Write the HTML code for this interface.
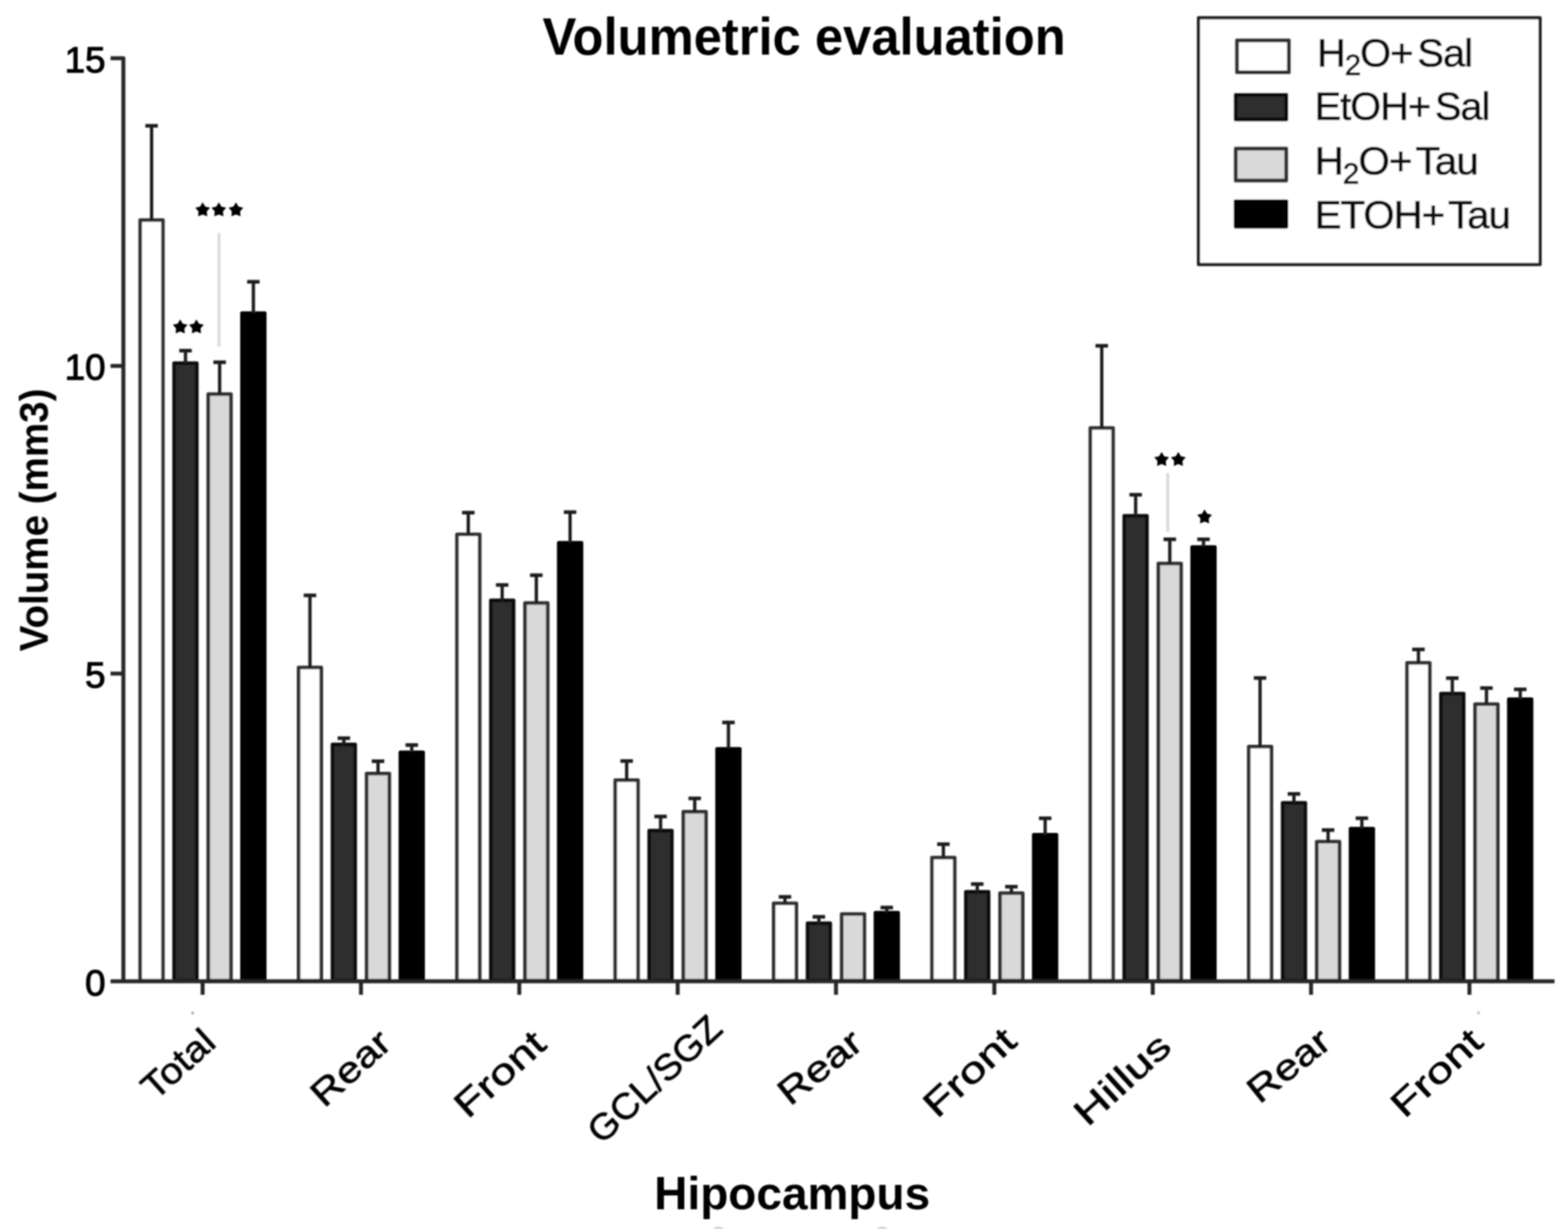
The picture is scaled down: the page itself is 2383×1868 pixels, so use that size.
<!DOCTYPE html>
<html><head><meta charset="utf-8"><title>Volumetric evaluation</title>
<style>html,body{margin:0;padding:0;background:#fff;}body{width:2383px;height:1868px;overflow:hidden;}svg{display:block;}text{font-family:"Liberation Sans",Arial,sans-serif;}</style></head><body>
<svg width="2383" height="1868" viewBox="0 0 2383 1868">
<rect x="0" y="0" width="2383" height="1868" fill="#fff"/>
<defs><filter id="soft" filterUnits="userSpaceOnUse" x="0" y="0" width="2383" height="1868"><feGaussianBlur stdDeviation="1.0"/></filter></defs>
<g filter="url(#soft)">
<text x="824.4" y="82.5" font-size="79" font-weight="bold" fill="#000" textLength="795.2" lengthAdjust="spacingAndGlyphs">Volumetric evaluation</text>
<rect x="213.1" y="334.4" width="34.5" height="1156.2" fill="#ffffff" stroke="#333333" stroke-width="5.5" stroke-linejoin="round"/>
<line x1="230.4" y1="334.4" x2="230.4" y2="191.2" stroke="#1e1e1e" stroke-width="5"/>
<line x1="220.9" y1="191.2" x2="239.9" y2="191.2" stroke="#1e1e1e" stroke-width="5.5"/>
<rect x="264.6" y="552.1" width="34.5" height="938.4" fill="#2e2e2e" stroke="#111111" stroke-width="5.5" stroke-linejoin="round"/>
<line x1="281.9" y1="552.1" x2="281.9" y2="533.0" stroke="#1e1e1e" stroke-width="5"/>
<line x1="272.4" y1="533.0" x2="291.4" y2="533.0" stroke="#1e1e1e" stroke-width="5.5"/>
<rect x="316.5" y="599.0" width="34.5" height="891.5" fill="#d9d9d9" stroke="#333333" stroke-width="5.5" stroke-linejoin="round"/>
<line x1="333.8" y1="599.0" x2="333.8" y2="550.6" stroke="#1e1e1e" stroke-width="5"/>
<line x1="324.3" y1="550.6" x2="343.3" y2="550.6" stroke="#1e1e1e" stroke-width="5.5"/>
<rect x="367.8" y="476.1" width="34.5" height="1014.5" fill="#000000" stroke="#000000" stroke-width="5.5" stroke-linejoin="round"/>
<line x1="385.1" y1="476.1" x2="385.1" y2="428.3" stroke="#1e1e1e" stroke-width="5"/>
<line x1="375.6" y1="428.3" x2="394.6" y2="428.3" stroke="#1e1e1e" stroke-width="5.5"/>
<rect x="453.8" y="1014.5" width="34.5" height="476.0" fill="#ffffff" stroke="#333333" stroke-width="5.5" stroke-linejoin="round"/>
<line x1="471.1" y1="1014.5" x2="471.1" y2="904.9" stroke="#1e1e1e" stroke-width="5"/>
<line x1="461.6" y1="904.9" x2="480.6" y2="904.9" stroke="#1e1e1e" stroke-width="5.5"/>
<rect x="505.3" y="1131.5" width="34.5" height="359.0" fill="#2e2e2e" stroke="#111111" stroke-width="5.5" stroke-linejoin="round"/>
<line x1="522.6" y1="1131.5" x2="522.6" y2="1122.0" stroke="#1e1e1e" stroke-width="5"/>
<line x1="513.1" y1="1122.0" x2="532.1" y2="1122.0" stroke="#1e1e1e" stroke-width="5.5"/>
<rect x="557.2" y="1175.8" width="34.5" height="314.7" fill="#d9d9d9" stroke="#333333" stroke-width="5.5" stroke-linejoin="round"/>
<line x1="574.5" y1="1175.8" x2="574.5" y2="1157.0" stroke="#1e1e1e" stroke-width="5"/>
<line x1="565.0" y1="1157.0" x2="584.0" y2="1157.0" stroke="#1e1e1e" stroke-width="5.5"/>
<rect x="608.5" y="1143.5" width="34.5" height="347.0" fill="#000000" stroke="#000000" stroke-width="5.5" stroke-linejoin="round"/>
<line x1="625.8" y1="1143.5" x2="625.8" y2="1132.4" stroke="#1e1e1e" stroke-width="5"/>
<line x1="616.3" y1="1132.4" x2="635.3" y2="1132.4" stroke="#1e1e1e" stroke-width="5.5"/>
<rect x="694.5" y="812.2" width="34.5" height="678.2" fill="#ffffff" stroke="#333333" stroke-width="5.5" stroke-linejoin="round"/>
<line x1="711.7" y1="812.2" x2="711.7" y2="779.2" stroke="#1e1e1e" stroke-width="5"/>
<line x1="702.2" y1="779.2" x2="721.2" y2="779.2" stroke="#1e1e1e" stroke-width="5.5"/>
<rect x="746.0" y="912.4" width="34.5" height="578.1" fill="#2e2e2e" stroke="#111111" stroke-width="5.5" stroke-linejoin="round"/>
<line x1="763.2" y1="912.4" x2="763.2" y2="889.1" stroke="#1e1e1e" stroke-width="5"/>
<line x1="753.7" y1="889.1" x2="772.7" y2="889.1" stroke="#1e1e1e" stroke-width="5.5"/>
<rect x="797.9" y="916.5" width="34.5" height="574.0" fill="#d9d9d9" stroke="#333333" stroke-width="5.5" stroke-linejoin="round"/>
<line x1="815.1" y1="916.5" x2="815.1" y2="874.3" stroke="#1e1e1e" stroke-width="5"/>
<line x1="805.6" y1="874.3" x2="824.6" y2="874.3" stroke="#1e1e1e" stroke-width="5.5"/>
<rect x="849.2" y="825.0" width="34.5" height="665.5" fill="#000000" stroke="#000000" stroke-width="5.5" stroke-linejoin="round"/>
<line x1="866.4" y1="825.0" x2="866.4" y2="778.4" stroke="#1e1e1e" stroke-width="5"/>
<line x1="856.9" y1="778.4" x2="875.9" y2="778.4" stroke="#1e1e1e" stroke-width="5.5"/>
<rect x="935.1" y="1185.8" width="34.5" height="304.8" fill="#ffffff" stroke="#333333" stroke-width="5.5" stroke-linejoin="round"/>
<line x1="952.4" y1="1185.8" x2="952.4" y2="1156.7" stroke="#1e1e1e" stroke-width="5"/>
<line x1="942.9" y1="1156.7" x2="961.9" y2="1156.7" stroke="#1e1e1e" stroke-width="5.5"/>
<rect x="986.6" y="1262.5" width="34.5" height="228.0" fill="#2e2e2e" stroke="#111111" stroke-width="5.5" stroke-linejoin="round"/>
<line x1="1003.9" y1="1262.5" x2="1003.9" y2="1241.0" stroke="#1e1e1e" stroke-width="5"/>
<line x1="994.4" y1="1241.0" x2="1013.4" y2="1241.0" stroke="#1e1e1e" stroke-width="5.5"/>
<rect x="1038.5" y="1233.8" width="34.5" height="256.8" fill="#d9d9d9" stroke="#333333" stroke-width="5.5" stroke-linejoin="round"/>
<line x1="1055.8" y1="1233.8" x2="1055.8" y2="1213.5" stroke="#1e1e1e" stroke-width="5"/>
<line x1="1046.3" y1="1213.5" x2="1065.3" y2="1213.5" stroke="#1e1e1e" stroke-width="5.5"/>
<rect x="1089.8" y="1138.3" width="34.5" height="352.2" fill="#000000" stroke="#000000" stroke-width="5.5" stroke-linejoin="round"/>
<line x1="1107.1" y1="1138.3" x2="1107.1" y2="1098.1" stroke="#1e1e1e" stroke-width="5"/>
<line x1="1097.6" y1="1098.1" x2="1116.6" y2="1098.1" stroke="#1e1e1e" stroke-width="5.5"/>
<rect x="1175.8" y="1373.0" width="34.5" height="117.5" fill="#ffffff" stroke="#333333" stroke-width="5.5" stroke-linejoin="round"/>
<line x1="1193.0" y1="1373.0" x2="1193.0" y2="1363.2" stroke="#1e1e1e" stroke-width="5"/>
<line x1="1183.5" y1="1363.2" x2="1202.5" y2="1363.2" stroke="#1e1e1e" stroke-width="5.5"/>
<rect x="1227.3" y="1403.3" width="34.5" height="87.2" fill="#2e2e2e" stroke="#111111" stroke-width="5.5" stroke-linejoin="round"/>
<line x1="1244.5" y1="1403.3" x2="1244.5" y2="1393.5" stroke="#1e1e1e" stroke-width="5"/>
<line x1="1235.0" y1="1393.5" x2="1254.0" y2="1393.5" stroke="#1e1e1e" stroke-width="5.5"/>
<rect x="1279.2" y="1389.2" width="34.5" height="101.3" fill="#d9d9d9" stroke="#333333" stroke-width="5.5" stroke-linejoin="round"/>
<rect x="1330.5" y="1387.2" width="34.5" height="103.3" fill="#000000" stroke="#000000" stroke-width="5.5" stroke-linejoin="round"/>
<line x1="1347.7" y1="1387.2" x2="1347.7" y2="1379.4" stroke="#1e1e1e" stroke-width="5"/>
<line x1="1338.2" y1="1379.4" x2="1357.2" y2="1379.4" stroke="#1e1e1e" stroke-width="5.5"/>
<rect x="1416.4" y="1303.5" width="34.5" height="187.0" fill="#ffffff" stroke="#333333" stroke-width="5.5" stroke-linejoin="round"/>
<line x1="1433.7" y1="1303.5" x2="1433.7" y2="1283.1" stroke="#1e1e1e" stroke-width="5"/>
<line x1="1424.2" y1="1283.1" x2="1443.2" y2="1283.1" stroke="#1e1e1e" stroke-width="5.5"/>
<rect x="1467.9" y="1355.5" width="34.5" height="135.0" fill="#2e2e2e" stroke="#111111" stroke-width="5.5" stroke-linejoin="round"/>
<line x1="1485.2" y1="1355.5" x2="1485.2" y2="1343.7" stroke="#1e1e1e" stroke-width="5"/>
<line x1="1475.7" y1="1343.7" x2="1494.7" y2="1343.7" stroke="#1e1e1e" stroke-width="5.5"/>
<rect x="1519.8" y="1357.5" width="34.5" height="133.0" fill="#d9d9d9" stroke="#333333" stroke-width="5.5" stroke-linejoin="round"/>
<line x1="1537.1" y1="1357.5" x2="1537.1" y2="1347.7" stroke="#1e1e1e" stroke-width="5"/>
<line x1="1527.6" y1="1347.7" x2="1546.6" y2="1347.7" stroke="#1e1e1e" stroke-width="5.5"/>
<rect x="1571.1" y="1268.7" width="34.5" height="221.8" fill="#000000" stroke="#000000" stroke-width="5.5" stroke-linejoin="round"/>
<line x1="1588.4" y1="1268.7" x2="1588.4" y2="1243.7" stroke="#1e1e1e" stroke-width="5"/>
<line x1="1578.9" y1="1243.7" x2="1597.9" y2="1243.7" stroke="#1e1e1e" stroke-width="5.5"/>
<rect x="1657.1" y="650.6" width="34.5" height="839.9" fill="#ffffff" stroke="#333333" stroke-width="5.5" stroke-linejoin="round"/>
<line x1="1674.4" y1="650.6" x2="1674.4" y2="525.6" stroke="#1e1e1e" stroke-width="5"/>
<line x1="1664.9" y1="525.6" x2="1683.9" y2="525.6" stroke="#1e1e1e" stroke-width="5.5"/>
<rect x="1708.6" y="784.1" width="34.5" height="706.4" fill="#2e2e2e" stroke="#111111" stroke-width="5.5" stroke-linejoin="round"/>
<line x1="1725.9" y1="784.1" x2="1725.9" y2="752.0" stroke="#1e1e1e" stroke-width="5"/>
<line x1="1716.4" y1="752.0" x2="1735.4" y2="752.0" stroke="#1e1e1e" stroke-width="5.5"/>
<rect x="1760.5" y="856.5" width="34.5" height="634.0" fill="#d9d9d9" stroke="#333333" stroke-width="5.5" stroke-linejoin="round"/>
<line x1="1777.8" y1="856.5" x2="1777.8" y2="819.7" stroke="#1e1e1e" stroke-width="5"/>
<line x1="1768.3" y1="819.7" x2="1787.3" y2="819.7" stroke="#1e1e1e" stroke-width="5.5"/>
<rect x="1811.8" y="831.5" width="34.5" height="659.0" fill="#000000" stroke="#000000" stroke-width="5.5" stroke-linejoin="round"/>
<line x1="1829.1" y1="831.5" x2="1829.1" y2="819.7" stroke="#1e1e1e" stroke-width="5"/>
<line x1="1819.6" y1="819.7" x2="1838.6" y2="819.7" stroke="#1e1e1e" stroke-width="5.5"/>
<rect x="1897.8" y="1134.8" width="34.5" height="355.7" fill="#ffffff" stroke="#333333" stroke-width="5.5" stroke-linejoin="round"/>
<line x1="1915.0" y1="1134.8" x2="1915.0" y2="1030.5" stroke="#1e1e1e" stroke-width="5"/>
<line x1="1905.5" y1="1030.5" x2="1924.5" y2="1030.5" stroke="#1e1e1e" stroke-width="5.5"/>
<rect x="1949.3" y="1220.2" width="34.5" height="270.3" fill="#2e2e2e" stroke="#111111" stroke-width="5.5" stroke-linejoin="round"/>
<line x1="1966.5" y1="1220.2" x2="1966.5" y2="1206.7" stroke="#1e1e1e" stroke-width="5"/>
<line x1="1957.0" y1="1206.7" x2="1976.0" y2="1206.7" stroke="#1e1e1e" stroke-width="5.5"/>
<rect x="2001.2" y="1279.2" width="34.5" height="211.3" fill="#d9d9d9" stroke="#333333" stroke-width="5.5" stroke-linejoin="round"/>
<line x1="2018.4" y1="1279.2" x2="2018.4" y2="1261.6" stroke="#1e1e1e" stroke-width="5"/>
<line x1="2008.9" y1="1261.6" x2="2027.9" y2="1261.6" stroke="#1e1e1e" stroke-width="5.5"/>
<rect x="2052.5" y="1259.5" width="34.5" height="231.0" fill="#000000" stroke="#000000" stroke-width="5.5" stroke-linejoin="round"/>
<line x1="2069.7" y1="1259.5" x2="2069.7" y2="1243.6" stroke="#1e1e1e" stroke-width="5"/>
<line x1="2060.2" y1="1243.6" x2="2079.2" y2="1243.6" stroke="#1e1e1e" stroke-width="5.5"/>
<rect x="2138.4" y="1007.6" width="34.5" height="482.9" fill="#ffffff" stroke="#333333" stroke-width="5.5" stroke-linejoin="round"/>
<line x1="2155.7" y1="1007.6" x2="2155.7" y2="987.1" stroke="#1e1e1e" stroke-width="5"/>
<line x1="2146.2" y1="987.1" x2="2165.2" y2="987.1" stroke="#1e1e1e" stroke-width="5.5"/>
<rect x="2189.9" y="1054.2" width="34.5" height="436.3" fill="#2e2e2e" stroke="#111111" stroke-width="5.5" stroke-linejoin="round"/>
<line x1="2207.2" y1="1054.2" x2="2207.2" y2="1030.7" stroke="#1e1e1e" stroke-width="5"/>
<line x1="2197.7" y1="1030.7" x2="2216.7" y2="1030.7" stroke="#1e1e1e" stroke-width="5.5"/>
<rect x="2241.8" y="1070.2" width="34.5" height="420.2" fill="#d9d9d9" stroke="#333333" stroke-width="5.5" stroke-linejoin="round"/>
<line x1="2259.1" y1="1070.2" x2="2259.1" y2="1045.8" stroke="#1e1e1e" stroke-width="5"/>
<line x1="2249.6" y1="1045.8" x2="2268.6" y2="1045.8" stroke="#1e1e1e" stroke-width="5.5"/>
<rect x="2293.1" y="1062.8" width="34.5" height="427.8" fill="#000000" stroke="#000000" stroke-width="5.5" stroke-linejoin="round"/>
<line x1="2310.4" y1="1062.8" x2="2310.4" y2="1047.8" stroke="#1e1e1e" stroke-width="5"/>
<line x1="2300.9" y1="1047.8" x2="2319.9" y2="1047.8" stroke="#1e1e1e" stroke-width="5.5"/>
<path d="M168.0,88.5 H187.5 V1491.5" fill="none" stroke="#262626" stroke-width="6" stroke-linejoin="round"/>
<line x1="168.0" y1="556.2" x2="187.5" y2="556.2" stroke="#262626" stroke-width="6"/>
<line x1="168.0" y1="1023.8" x2="187.5" y2="1023.8" stroke="#262626" stroke-width="6"/>
<line x1="168.0" y1="1491.5" x2="2362.5" y2="1491.5" stroke="#262626" stroke-width="6"/>
<line x1="307.9" y1="1491.5" x2="307.9" y2="1512" stroke="#262626" stroke-width="6"/>
<line x1="548.6" y1="1491.5" x2="548.6" y2="1512" stroke="#262626" stroke-width="6"/>
<line x1="789.2" y1="1491.5" x2="789.2" y2="1512" stroke="#262626" stroke-width="6"/>
<line x1="1029.9" y1="1491.5" x2="1029.9" y2="1512" stroke="#262626" stroke-width="6"/>
<line x1="1270.5" y1="1491.5" x2="1270.5" y2="1512" stroke="#262626" stroke-width="6"/>
<line x1="1511.2" y1="1491.5" x2="1511.2" y2="1512" stroke="#262626" stroke-width="6"/>
<line x1="1751.9" y1="1491.5" x2="1751.9" y2="1512" stroke="#262626" stroke-width="6"/>
<line x1="1992.5" y1="1491.5" x2="1992.5" y2="1512" stroke="#262626" stroke-width="6"/>
<line x1="2233.2" y1="1491.5" x2="2233.2" y2="1512" stroke="#262626" stroke-width="6"/>
<text x="160.5" y="109.7" font-size="56" text-anchor="end" fill="#000" stroke="#000" stroke-width="1.5">15</text>
<text x="160.5" y="577.4" font-size="56" text-anchor="end" fill="#000" stroke="#000" stroke-width="1.5">10</text>
<text x="160.5" y="1045.0" font-size="56" text-anchor="end" fill="#000" stroke="#000" stroke-width="1.5">5</text>
<text x="160.5" y="1512.7" font-size="56" text-anchor="end" fill="#000" stroke="#000" stroke-width="1.5">0</text>
<text transform="translate(72.5,990) rotate(-90)" x="0" y="0" font-size="61" font-weight="bold" fill="#000" textLength="399.4" lengthAdjust="spacingAndGlyphs">Volume (mm3)</text>
<text transform="translate(331.0,1588.5) rotate(-41.9)" x="0" y="0" font-size="55.0" text-anchor="end" fill="#000" stroke="#000" stroke-width="0.8" textLength="128.4" lengthAdjust="spacingAndGlyphs">Total</text>
<text transform="translate(598.0,1589.5) rotate(-42.2)" x="0" y="0" font-size="55.0" text-anchor="end" fill="#000" stroke="#000" stroke-width="0.8" textLength="142.2" lengthAdjust="spacingAndGlyphs">Rear</text>
<text transform="translate(832.9,1591.1) rotate(-42.2)" x="0" y="0" font-size="55.0" text-anchor="end" fill="#000" stroke="#000" stroke-width="0.8" textLength="164.7" lengthAdjust="spacingAndGlyphs">Front</text>
<text transform="translate(1101.0,1567.3) rotate(-42.9)" x="0" y="0" font-size="55.0" text-anchor="end" fill="#000" stroke="#000" stroke-width="0.8" textLength="254.9" lengthAdjust="spacingAndGlyphs">GCL/SGZ</text>
<text transform="translate(1314.7,1590.9) rotate(-38.6)" x="0" y="0" font-size="55.0" text-anchor="end" fill="#000" stroke="#000" stroke-width="0.8" textLength="146.2" lengthAdjust="spacingAndGlyphs">Rear</text>
<text transform="translate(1548.0,1586.5) rotate(-42.8)" x="0" y="0" font-size="55.0" text-anchor="end" fill="#000" stroke="#000" stroke-width="0.8" textLength="168.9" lengthAdjust="spacingAndGlyphs">Front</text>
<text transform="translate(1783.3,1595.0) rotate(-42.3)" x="0" y="0" font-size="55.0" text-anchor="end" fill="#000" stroke="#000" stroke-width="0.8" textLength="176.5" lengthAdjust="spacingAndGlyphs">Hillus</text>
<text transform="translate(2026.2,1589.3) rotate(-38.6)" x="0" y="0" font-size="55.0" text-anchor="end" fill="#000" stroke="#000" stroke-width="0.8" textLength="143.7" lengthAdjust="spacingAndGlyphs">Rear</text>
<text transform="translate(2256.8,1587.5) rotate(-42.9)" x="0" y="0" font-size="55.0" text-anchor="end" fill="#000" stroke="#000" stroke-width="0.8" textLength="167.1" lengthAdjust="spacingAndGlyphs">Front</text>
<text x="994.3" y="1838.2" font-size="70" font-weight="bold" fill="#000" textLength="419.3" lengthAdjust="spacingAndGlyphs">Hipocampus</text>
<line x1="332.9" y1="354" x2="332.9" y2="527" stroke="#dadada" stroke-width="4.5"/>
<line x1="1774.8" y1="719" x2="1774.8" y2="808.5" stroke="#dadada" stroke-width="4.5"/>
<polygon points="308.0,307.5 311.9,314.0 319.2,315.7 314.3,321.3 314.9,328.8 308.0,325.9 301.1,328.8 301.7,321.3 296.8,315.7 304.1,314.0" fill="#000"/>
<polygon points="332.6,307.5 336.5,314.0 343.8,315.7 338.9,321.3 339.5,328.8 332.6,325.9 325.7,328.8 326.3,321.3 321.4,315.7 328.7,314.0" fill="#000"/>
<polygon points="358.6,307.5 362.5,314.0 369.8,315.7 364.9,321.3 365.5,328.8 358.6,325.9 351.7,328.8 352.3,321.3 347.4,315.7 354.7,314.0" fill="#000"/>
<polygon points="273.9,485.4 277.8,491.9 285.1,493.6 280.2,499.2 280.8,506.7 273.9,503.8 267.0,506.7 267.6,499.2 262.7,493.6 270.0,491.9" fill="#000"/>
<polygon points="298.5,485.4 302.4,491.9 309.7,493.6 304.8,499.2 305.4,506.7 298.5,503.8 291.6,506.7 292.2,499.2 287.3,493.6 294.6,491.9" fill="#000"/>
<polygon points="1765.4,686.9 1769.3,693.4 1776.6,695.1 1771.7,700.7 1772.3,708.2 1765.4,705.3 1758.5,708.2 1759.1,700.7 1754.2,695.1 1761.5,693.4" fill="#000"/>
<polygon points="1790.8,686.9 1794.7,693.4 1802.0,695.1 1797.1,700.7 1797.7,708.2 1790.8,705.3 1783.9,708.2 1784.5,700.7 1779.6,695.1 1786.9,693.4" fill="#000"/>
<polygon points="1830.7,774.3 1834.6,780.8 1841.9,782.5 1837.0,788.1 1837.6,795.6 1830.7,792.7 1823.8,795.6 1824.4,788.1 1819.5,782.5 1826.8,780.8" fill="#000"/>
<circle cx="292.7" cy="1539.7" r="2.2" fill="#aaa"/>
<circle cx="2247" cy="1539.5" r="2.2" fill="#bbb"/>
<ellipse cx="1092" cy="1876" rx="9" ry="10" fill="none" stroke="#ccc" stroke-width="3"/>
<ellipse cx="1341" cy="1876" rx="9" ry="10" fill="none" stroke="#ccc" stroke-width="3"/>
<rect x="1821.5" y="27" width="519" height="375" fill="#fff" stroke="#222" stroke-width="5" stroke-linejoin="round"/>
<rect x="1879.8" y="61.2" width="79.1" height="48.8" fill="#fff" stroke="#333" stroke-width="6" stroke-linejoin="round"/>
<rect x="1877.9" y="144.1" width="77.0" height="37.3" fill="#2e2e2e" stroke="#111" stroke-width="6" stroke-linejoin="round"/>
<rect x="1877.9" y="225.7" width="77.0" height="48.9" fill="#d9d9d9" stroke="#333" stroke-width="6" stroke-linejoin="round"/>
<rect x="1877.9" y="306.0" width="77.0" height="38.6" fill="#000" stroke="#000" stroke-width="6" stroke-linejoin="round"/>
<text x="2001.5" y="101.0" font-size="60" fill="#111" stroke="#111" stroke-width="1.1" style="word-spacing:-8px;letter-spacing:-1.5px" textLength="235.7" lengthAdjust="spacingAndGlyphs">H<tspan font-size="44" dy="12.5">2</tspan><tspan dy="-12.5">O+ Sal</tspan></text>
<text x="1998.0" y="182.4" font-size="60" fill="#111" stroke="#111" stroke-width="1.1" style="word-spacing:-8px;letter-spacing:-1.5px" textLength="265.5" lengthAdjust="spacingAndGlyphs">EtOH+ Sal</text>
<text x="1998.0" y="264.8" font-size="60" fill="#111" stroke="#111" stroke-width="1.1" style="word-spacing:-8px;letter-spacing:-1.5px" textLength="247.8" lengthAdjust="spacingAndGlyphs">H<tspan font-size="44" dy="14.5">2</tspan><tspan dy="-14.5">O+ Tau</tspan></text>
<text x="1998.0" y="347.0" font-size="60" fill="#111" stroke="#111" stroke-width="1.1" style="word-spacing:-8px;letter-spacing:-1.5px" textLength="296.7" lengthAdjust="spacingAndGlyphs">ETOH+ Tau</text>
</g>
</svg>
</body></html>
